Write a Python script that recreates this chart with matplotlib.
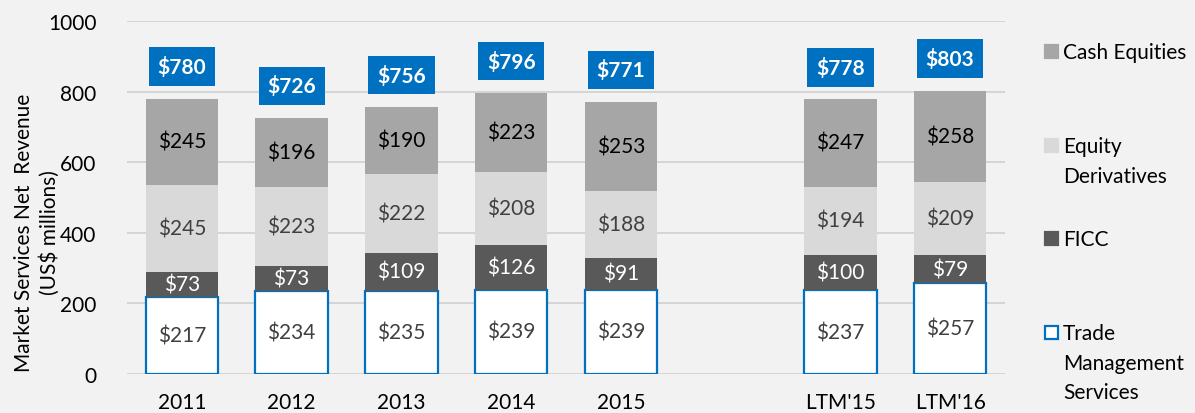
import numpy as np
import matplotlib
matplotlib.use("Agg")
import matplotlib.pyplot as plt
from matplotlib.patches import Rectangle

# data
periods = ["2011", "2012", "2013", "2014", "2015", "LTM'15", "LTM'16"]
xpos = [0, 1, 2, 3, 4, 6, 7]
tms = [217, 234, 235, 239, 239, 237, 257]
ficc = [73, 73, 109, 126, 91, 100, 79]
eq_deriv = [245, 223, 222, 208, 188, 194, 209]
cash_eq = [245, 196, 190, 223, 253, 247, 258]

series = [
    ("Trade\nManagement\nServices", tms, "white", "#0070C0", "#404040"),
    ("FICC", ficc, "#595959", "none", "white"),
    ("Equity\nDerivatives", eq_deriv, "#D9D9D9", "none", "#404040"),
    ("Cash Equities", cash_eq, "#A6A6A6", "none", "black"),
]

plt.rcParams['font.family'] = ['Lato', 'DejaVu Sans']
bg = "#F2F2F2"
fs = 15

fig = plt.figure(figsize=(11.95, 4.14), dpi=100)
fig.patch.set_facecolor(bg)
ax = fig.add_axes([127/1195, 1 - 375/414, 878/1195, 353/414])
ax.set_facecolor(bg)

bottom = np.zeros(len(xpos))
for name, vals, fc, ec, tc in series:
    vals = np.array(vals)
    bars = ax.bar(xpos, vals, bottom=bottom, width=0.66, color=fc,
                  edgecolor=ec, linewidth=1.6 if ec != "none" else 0, zorder=3)
    for x, b, v in zip(xpos, bottom, vals):
        ax.text(x, b + v / 2, "$%d" % v, ha="center", va="center",
                fontsize=fs, color=tc, zorder=4)
    bottom = bottom + vals

totals = bottom
for x, t in zip(xpos, totals):
    ax.annotate("$%d" % t, (x, t), xytext=(0, 23), textcoords="offset points",
                ha="center", va="center", fontsize=fs, fontweight="bold",
                color="white", zorder=5,
                bbox=dict(boxstyle="square,pad=0.42", fc="#0070C0", ec="none"))

ax.set_xlim(-0.5, 7.5)
ax.set_ylim(0, 1000)
ax.set_yticks(range(0, 1001, 200))
ax.set_xticks(xpos)
ax.set_xticklabels(periods)
ax.tick_params(axis="both", length=0, labelsize=fs)
ax.tick_params(axis="y", pad=22)
ax.tick_params(axis="x", pad=13)
ax.yaxis.grid(True, color="#D0D0D0", linewidth=1.2, zorder=0)
for s in ax.spines.values():
    s.set_visible(False)

fig.text(24/1195, 1 - 233/414, "Market Services Net  Revenue", rotation=90,
         ha="center", va="center", fontsize=fs)
fig.text(50/1195, 1 - 233/414, "(US$ millions)", rotation=90,
         ha="center", va="center", fontsize=fs)

# legend drawn by hand to match the spacing of the reference
leg_y = [52, 146, 239, 333]
for (name, vals, fc, ec, tc), y in zip(series[::-1], leg_y):
    fig.patches.append(Rectangle(((1045) / 1195, 1 - (y + 7) / 414), 13 / 1195, 13 / 414,
                                 transform=fig.transFigure, facecolor=fc,
                                 edgecolor=ec if ec != "none" else fc, linewidth=1.6))
    fig.text(1063 / 1195, 1 - (y - 9) / 414, name, ha="left", va="top",
             fontsize=fs, linespacing=1.6)

fig.savefig("out.png", dpi=100, facecolor=bg)
